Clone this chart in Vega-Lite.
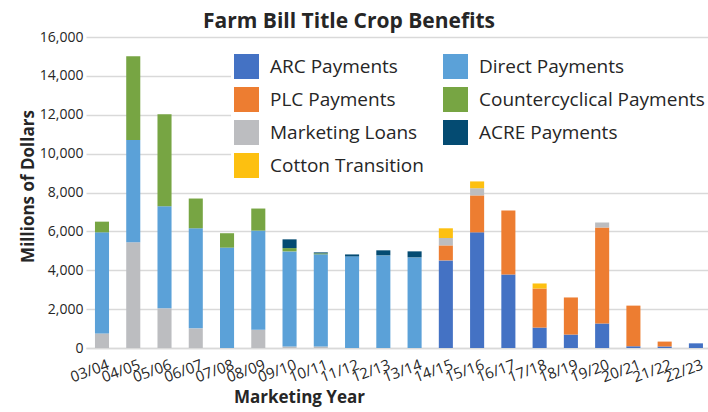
{
  "$schema": "https://vega.github.io/schema/vega-lite/v6.json",
  "width": 622,
  "height": 311,
  "autosize": "none",
  "padding": {"left": 86, "top": 37, "right": 0, "bottom": 64},
  "background": "white",
  "title": {
    "text": "Farm Bill Title Crop Benefits",
    "font": "Open Sans",
    "fontSize": 21,
    "fontWeight": "bold",
    "color": "#262626",
    "anchor": "middle",
    "dx": -48,
    "offset": -2
  },
  "config": {
    "view": {"stroke": null},
    "font": "Open Sans",
    "axis": {"labelFont": "Open Sans", "titleFont": "Open Sans"}
  },
  "data": {
    "values": [
      {"year": "03/04", "type": "Marketing Loans", "value": 750},
      {"year": "03/04", "type": "Direct Payments", "value": 5200},
      {"year": "03/04", "type": "Countercyclical Payments", "value": 550},
      {"year": "04/05", "type": "Marketing Loans", "value": 5440},
      {"year": "04/05", "type": "Direct Payments", "value": 5260},
      {"year": "04/05", "type": "Countercyclical Payments", "value": 4310},
      {"year": "05/06", "type": "Marketing Loans", "value": 2040},
      {"year": "05/06", "type": "Direct Payments", "value": 5255},
      {"year": "05/06", "type": "Countercyclical Payments", "value": 4725},
      {"year": "06/07", "type": "Marketing Loans", "value": 1010},
      {"year": "06/07", "type": "Direct Payments", "value": 5150},
      {"year": "06/07", "type": "Countercyclical Payments", "value": 1530},
      {"year": "07/08", "type": "Direct Payments", "value": 5165},
      {"year": "07/08", "type": "Countercyclical Payments", "value": 740},
      {"year": "08/09", "type": "Marketing Loans", "value": 940},
      {"year": "08/09", "type": "Direct Payments", "value": 5100},
      {"year": "08/09", "type": "Countercyclical Payments", "value": 1135},
      {"year": "09/10", "type": "Marketing Loans", "value": 80},
      {"year": "09/10", "type": "Direct Payments", "value": 4890},
      {"year": "09/10", "type": "Countercyclical Payments", "value": 170},
      {"year": "09/10", "type": "ACRE Payments", "value": 450},
      {"year": "10/11", "type": "Marketing Loans", "value": 80},
      {"year": "10/11", "type": "Direct Payments", "value": 4740},
      {"year": "10/11", "type": "Countercyclical Payments", "value": 50},
      {"year": "10/11", "type": "ACRE Payments", "value": 50},
      {"year": "11/12", "type": "Direct Payments", "value": 4714},
      {"year": "11/12", "type": "ACRE Payments", "value": 100},
      {"year": "12/13", "type": "Direct Payments", "value": 4765},
      {"year": "12/13", "type": "ACRE Payments", "value": 260},
      {"year": "13/14", "type": "Direct Payments", "value": 4662},
      {"year": "13/14", "type": "ACRE Payments", "value": 310},
      {"year": "14/15", "type": "ARC Payments", "value": 4508},
      {"year": "14/15", "type": "PLC Payments", "value": 770},
      {"year": "14/15", "type": "Marketing Loans", "value": 380},
      {"year": "14/15", "type": "Cotton Transition", "value": 500},
      {"year": "15/16", "type": "ARC Payments", "value": 5950},
      {"year": "15/16", "type": "PLC Payments", "value": 1900},
      {"year": "15/16", "type": "Marketing Loans", "value": 370},
      {"year": "15/16", "type": "Cotton Transition", "value": 350},
      {"year": "16/17", "type": "ARC Payments", "value": 3780},
      {"year": "16/17", "type": "PLC Payments", "value": 3290},
      {"year": "17/18", "type": "ARC Payments", "value": 1050},
      {"year": "17/18", "type": "PLC Payments", "value": 2010},
      {"year": "17/18", "type": "Cotton Transition", "value": 260},
      {"year": "18/19", "type": "ARC Payments", "value": 690},
      {"year": "18/19", "type": "PLC Payments", "value": 1910},
      {"year": "19/20", "type": "ARC Payments", "value": 1260},
      {"year": "19/20", "type": "PLC Payments", "value": 4940},
      {"year": "19/20", "type": "Marketing Loans", "value": 260},
      {"year": "20/21", "type": "ARC Payments", "value": 90},
      {"year": "20/21", "type": "PLC Payments", "value": 2090},
      {"year": "21/22", "type": "ARC Payments", "value": 80},
      {"year": "21/22", "type": "PLC Payments", "value": 250},
      {"year": "22/23", "type": "ARC Payments", "value": 240}
    ]
  },
  "transform": [
    {"lookup": "type", "from": {"data": {"values": [
      {"type": "ARC Payments", "ord": 0},
      {"type": "PLC Payments", "ord": 1},
      {"type": "Marketing Loans", "ord": 2},
      {"type": "Direct Payments", "ord": 3},
      {"type": "Countercyclical Payments", "ord": 4},
      {"type": "ACRE Payments", "ord": 5},
      {"type": "Cotton Transition", "ord": 6}
    ]}, "key": "type", "fields": ["ord"]}}
  ],
  "mark": {"type": "bar"},
  "encoding": {
    "x": {
      "field": "year",
      "type": "nominal",
      "sort": null,
      "scale": {"paddingInner": 0.55, "paddingOuter": 0.224, "align": 0.64},
      "axis": {
        "title": "Marketing Year",
        "titleFontSize": 17,
        "titleFontWeight": "bold",
        "titleColor": "#262626",
        "titleX": 213,
        "titleY": 54,
        "titleBaseline": "alphabetic",
        "titleAnchor": "middle",
        "labelAngle": -20,
        "labelAlign": "right",
        "labelBaseline": "top",
        "labelFontSize": 15,
        "labelColor": "#262626",
        "labelPadding": 9,
        "labelOffset": 4,
        "ticks": false,
        "domainColor": "#d9d9d9",
        "domainWidth": 1.5
      }
    },
    "y": {
      "field": "value",
      "type": "quantitative",
      "stack": "zero",
      "scale": {"domain": [0, 16000]},
      "axis": {
        "title": "Millions of Dollars",
        "titleFontSize": 17,
        "titleFontWeight": "bold",
        "titleColor": "#262626",
        "titleX": -58,
        "titleY": 149,
        "titleBaseline": "middle",
        "titleAnchor": "middle",
        "values": [0, 2000, 4000, 6000, 8000, 10000, 12000, 14000, 16000],
        "format": ",.0f",
        "labelFontSize": 14,
        "labelColor": "#262626",
        "labelPadding": 3,
        "ticks": false,
        "domain": false,
        "gridColor": "#d9d9d9",
        "gridWidth": 1.5
      }
    },
    "order": {"field": "ord", "type": "quantitative"},
    "color": {
      "field": "type",
      "type": "nominal",
      "scale": {
        "domain": ["ARC Payments", "Direct Payments", "PLC Payments", "Countercyclical Payments", "Marketing Loans", "ACRE Payments", "Cotton Transition"],
        "range": ["#4472C4", "#5BA1D8", "#ED7D31", "#77A543", "#BCBDC0", "#044B72", "#FDC010"]
      },
      "legend": {
        "title": null,
        "orient": "none",
        "legendX": 145,
        "legendY": 14,
        "columns": 2,
        "direction": "horizontal",
        "fillColor": "white",
        "padding": 3,
        "symbolType": "square",
        "symbolSize": 625,
        "symbolStrokeWidth": 0,
        "symbolOpacity": 1,
        "labelFont": "Open Sans",
        "labelFontSize": 19,
        "labelColor": "#262626",
        "labelOffset": 11,
        "labelLimit": 400,
        "rowPadding": 8,
        "columnPadding": 19
      }
    }
  }
}
